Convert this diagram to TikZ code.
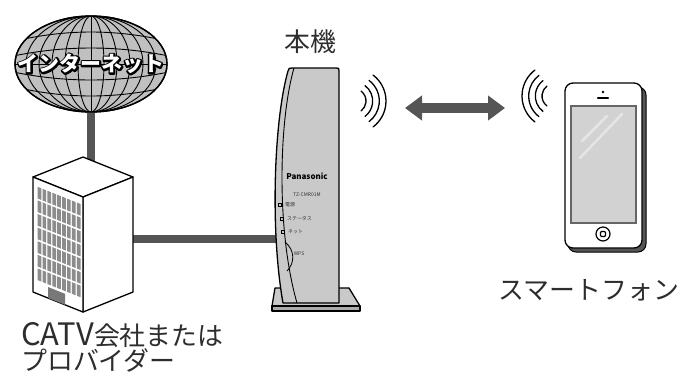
\documentclass[tikz,border=0pt]{standalone}
\usepackage{fontspec}
\setmainfont{Noto Sans CJK JP}
\usepackage{xcolor}
\usepackage{tikz}
\usetikzlibrary{shapes.geometric, positioning, arrows.meta, backgrounds}
\definecolor{CableGray}{RGB}{85,85,85}
\definecolor{GlobeGray}{RGB}{192,192,192}
\definecolor{BodyGray}{RGB}{201,201,201}
\definecolor{WinGray}{RGB}{140,140,140}
\definecolor{DoorGray}{RGB}{120,120,120}
\definecolor{InkGray}{RGB}{45,45,45}
\definecolor{ScreenGray}{RGB}{210,210,210}
% stroked glyph outline (text render mode 1)
\newcommand{\strokedtext}[1]{\special{pdf:literal q 1 Tr 3.4 w 1 j 0 0 0 RG}#1\special{pdf:literal Q}}

\begin{document}
\begin{tikzpicture}[x=1bp, y=-1bp,
      outline/.style={draw=black, line width=1.3bp, line join=round},
      grid/.style={draw=black, line width=0.9bp},
      cable/.style={draw=CableGray, line width=8bp},
      wave/.style={draw=black, line width=1.3bp, line cap=round},
      link/.style={draw=CableGray, line width=10bp,
                   {Triangle[length=17bp,width=24bp]}-{Triangle[length=17bp,width=24bp]}},
      caption/.style={font=\fontsize{26}{28}\selectfont, text=InkGray, inner sep=0pt},
      netlbl/.style={font=\bfseries\fontsize{21}{23}\selectfont, inner sep=0pt},
      tiny/.style={font=\fontsize{5}{6}\selectfont, text=black!80, inner sep=0pt},
      led/.style={draw=black, line width=0.7bp, minimum size=3bp, inner sep=0pt}
    ]
    \useasboundingbox (0,0) rectangle (684,374);

    % Internet globe
    \node[ellipse, outline, fill=GlobeGray, minimum width=152bp,
          minimum height=96bp, inner sep=0pt] (net) at (91,64) {};
    \begin{scope}
      \clip (91,64) ellipse [x radius=76, y radius=48];
      \foreach \k in {13,26,39,52,65}
        \draw[grid] (91,64) ellipse [x radius=\k, y radius=48];
      \draw[grid] (91,10) -- (91,120);
      \foreach \m/\e in {32/45, 48/59, 80/69, 96/83}
        \draw[grid] (0,\e) parabola bend (91,\m) (182,\e);
      \draw[grid] (10,64) -- (172,64);
    \end{scope}
    \draw[outline] (91,64) ellipse [x radius=76, y radius=48];
    \node[netlbl, text=white] (netname) at (net.center) {\strokedtext{インターネット}};
    \node[netlbl, text=white] at (netname.center) {インターネット};

    % CATV building
    \coordinate (roof) at (91,175);
    \coordinate (bldg-e) at (133,239);
    \draw[outline, fill=white] (83,157) -- (133,177) -- (83,197) -- (33,177) -- cycle;
    \draw[outline, fill=white] (83,197) -- (133,177) -- (133,292) -- (83,312) -- cycle;
    \draw[outline, fill=white] (33,177) -- (83,197) -- (83,312) -- (33,292) -- cycle;
    \begin{scope}[shift={(33,177)}, yslant=-0.4]
      \foreach \c in {0,...,8}
        \foreach \r in {0,...,6}
          \fill[WinGray] (4.6+\c*4.9,8+\r*13.6) rectangle ++(3.7,11.6);
      \fill[DoorGray] (15,104) rectangle (32,115);
    \end{scope}

    % Router (main unit)
    \coordinate (unit-w) at (285,239);
    \draw[outline, fill=BodyGray] (275,288) -- (349,288) -- (360,306) -- (272,306) -- cycle;
    \draw[outline, fill=BodyGray!85!black] (272,306) -- (360,306) -- (360,311) -- (272,311) -- cycle;
    \draw[outline, fill=BodyGray] (283,303) .. controls (270,230) and (274,120) .. (288,71)
          .. controls (289,68) .. (292,68) -- (336,68) .. controls (339,68) .. (339,71)
          -- (339,303) -- cycle;
    \draw[grid] (294,68) .. controls (279,120) and (276,230) .. (297,303);
    \node[font=\bfseries\fontsize{8}{9}\selectfont, inner sep=0pt] (brand) at (307,176) {Panasonic};
    \node[tiny] (model) at (307,195) {TZ-CMR01M};
    \foreach \x/\y/\txt [count=\i] in {280/205/電源, 282/219/ステータス, 283/232/ネット}{
      \node[led] (led\i) at (\x,\y) {};
      \node[tiny, right=3bp of led\i] (ledlbl\i) {\txt};
    }
    \draw[line width=0.8bp] (285,242) .. controls (295,250) and (295,263) .. (287,271);
    \node[tiny] (wps) at (299,254) {WPS};
    \node[caption] (unit) at (310,42) {本機};

    % Wireless link
    \coordinate (wavesL) at (353.5,101);
    \coordinate (wavesR) at (554.5,96);
    \foreach \r in {12.5,19.2,25.8,32.5}{
      \draw[wave] (wavesL) ++(-53:\r) arc[start angle=-53, end angle=53, radius=\r];
      \draw[wave] (wavesR) ++(127:\r) arc[start angle=127, end angle=233, radius=\r];
    }
    \coordinate (arrL) at (405,108);
    \coordinate (arrR) at (505,108);
    \draw[link] (arrL) -- (arrR);

    % Smartphone
    \draw[draw=black, line width=1bp, fill=CableGray, rounded corners=8bp] (568,87) rectangle (646,252);
    \draw[outline, fill=white, rounded corners=8bp] (565,83) rectangle (642,248);
    \draw[draw=black!60, line width=1.2bp, fill=ScreenGray] (571,106) rectangle (636,223);
    \draw[white!90!black, line width=2.5bp, line cap=round] (582,141) -- (607,116);
    \draw[white!90!black, line width=2.5bp, line cap=round] (580,158) -- (622,114);
    \fill (603,92) circle (1.4);
    \draw[line width=2.5bp, line cap=round] (598,98) -- (608,98);
    \draw[line width=1.2bp] (603,234) circle (7);
    \draw[line width=1.2bp, rounded corners=1bp] (600.5,231.5) rectangle (605.5,236.5);
    \node[caption] (phone) at (589,290) {スマートフォン};

    % Provider caption
    \node[caption, align=left, anchor=north west, font=\fontsize{26}{23.5}\selectfont] (isp) at (21,322)
         {{\fontsize{31}{23.5}\selectfont CATV}会社または\\プロバイダー};

    % Cables behind everything
    \begin{scope}[on background layer]
      \draw[cable] (net.south) -- (roof);
      \draw[cable] (bldg-e) -- (unit-w);
    \end{scope}
\end{tikzpicture}
\end{document}
